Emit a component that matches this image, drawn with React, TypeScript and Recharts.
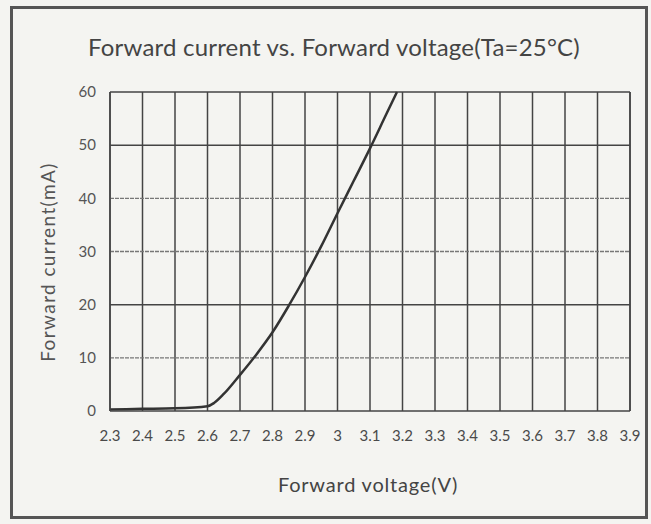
import { LineChart, Line, XAxis, YAxis, CartesianGrid, ReferenceLine } from 'recharts';

// voltage (V) and current (mA)
const voltage = [2.3, 2.4, 2.5, 2.6, 2.62, 2.65, 2.7, 2.75, 2.8, 2.85, 2.9, 2.95, 3.0, 3.05, 3.1, 3.15, 3.183];
const current = [0.3, 0.4, 0.5, 0.9, 1.5, 3.2, 6.8, 10.6, 14.8, 19.8, 25.2, 31.0, 37.2, 43.3, 49.4, 55.8, 60];

const xTicks = [2.3, 2.4, 2.5, 2.6, 2.7, 2.8, 2.9, 3.0, 3.1, 3.2, 3.3, 3.4, 3.5, 3.6, 3.7, 3.8, 3.9];
const yTicks = [0, 10, 20, 30, 40, 50, 60];
const solidRows = [20, 50, 60];
const faintRows = [10, 30, 40];

const data = voltage.map((v, i) => ({ v, i: current[i] }));

const font = 'Lato, "Liberation Sans", Arial, sans-serif';

export default function App() {
  return (
    <div style={{ position: 'absolute', left: 0, top: 0, width: 651, height: 524, background: '#f4f4f1', fontFamily: font }}>
      <div style={{ position: 'absolute', left: 10, top: 6, width: 632, height: 507, border: '3px solid #555' }} />
      <div style={{ position: 'absolute', left: 334, top: 46, fontSize: 24, color: '#444', transform: 'translate(-50%, -50%)', whiteSpace: 'nowrap', letterSpacing: 0.2 }}>
        Forward current vs. Forward voltage(Ta=25°C)
      </div>
      <div style={{ position: 'absolute', left: 368, top: 484, fontSize: 20, color: '#444', transform: 'translate(-50%, -50%)', whiteSpace: 'nowrap', letterSpacing: 0.8 }}>
        Forward voltage(V)
      </div>
      <div style={{ position: 'absolute', left: 47, top: 262, fontSize: 19, color: '#555', transform: 'translate(-50%, -50%) rotate(-90deg)', whiteSpace: 'nowrap', letterSpacing: 1.4 }}>
        Forward current(mA)
      </div>
      <LineChart width={651} height={524} data={data} margin={{ top: 92, right: 21, left: 70, bottom: 83 }} style={{ position: 'absolute', left: 0, top: 0 }}>
        <CartesianGrid horizontal={false} stroke="#444" strokeWidth={1.5} />
        <XAxis type="number" dataKey="v" domain={[2.3, 3.9]} ticks={xTicks} interval={0} tickSize={0} tickMargin={19} height={30}
          axisLine={{ stroke: '#444', strokeWidth: 1.5 }} tickLine={false}
          tick={{ fontSize: 15, fill: '#4a4a4a', fontFamily: font }}
          tickFormatter={(v: number) => (v === 3 ? '3' : v.toFixed(1))} />
        <YAxis type="number" domain={[0, 60]} ticks={yTicks} interval={0} tickSize={0} tickMargin={14} width={40}
          axisLine={{ stroke: '#444', strokeWidth: 1.5 }} tickLine={false}
          tick={{ fontSize: 15, fill: '#555', fontFamily: font }} />
        {solidRows.map(y => <ReferenceLine key={y} y={y} stroke="#444" strokeWidth={1.5} />)}
        {faintRows.map(y => <ReferenceLine key={y} y={y} stroke="#777" strokeWidth={1.3} strokeDasharray="4 1" />)}
        <ReferenceLine x={3.9} stroke="#444" strokeWidth={1.5} />
        <Line type="monotone" dataKey="i" stroke="#333" strokeWidth={2.5} dot={false} isAnimationActive={false} />
      </LineChart>
    </div>
  );
}
